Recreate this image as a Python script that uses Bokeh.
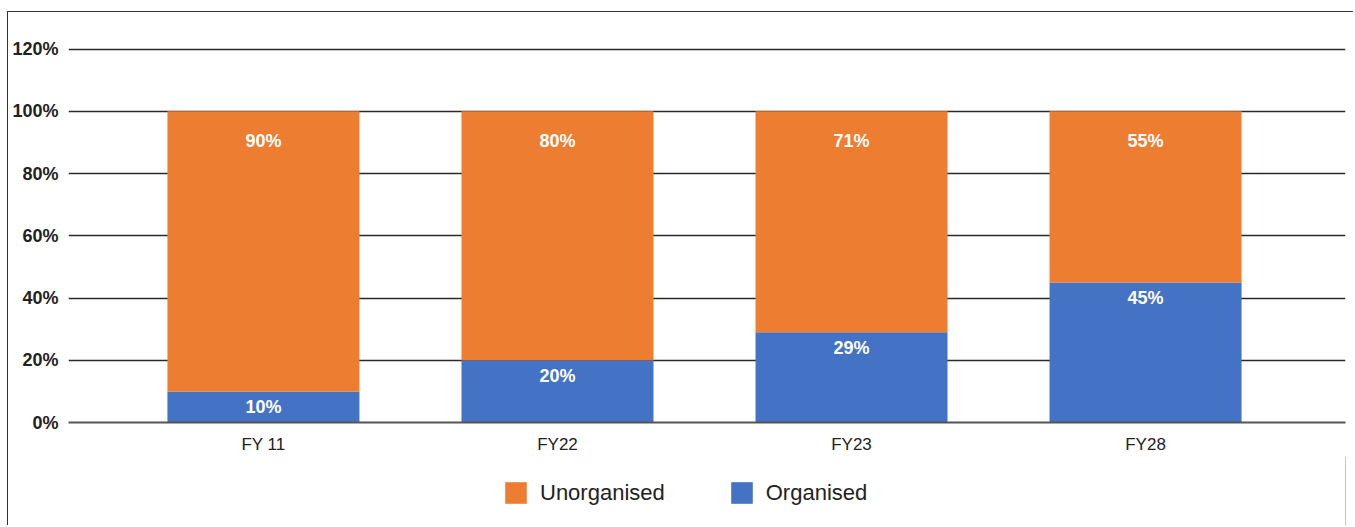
from bokeh.plotting import figure
from bokeh.layouts import column
from bokeh.models import ColumnDataSource, FixedTicker, Legend, LegendItem
from bokeh.core.properties import value
from bokeh.embed import file_html
from bokeh.resources import INLINE

categories = ["FY 11", "FY22", "FY23", "FY28"]
organised = [10, 20, 29, 45]
unorganised = [90, 80, 71, 55]
series_names = ["Unorganised", "Organised"]
y_ticks = [0, 20, 40, 60, 80, 100, 120]
y_tick_labels = ["0%", "20%", "40%", "60%", "80%", "100%", "120%"]

ORANGE = "#ED7D31"
BLUE = "#4472C4"
FONT = "Liberation Sans"

xs = list(range(len(categories)))
tops = [o + u for o, u in zip(organised, unorganised)]
src = ColumnDataSource(dict(
    x=xs,
    org=organised,
    unorg=unorganised,
    top=tops,
    org_lbl=[f"{v}%" for v in organised],
    unorg_lbl=[f"{v}%" for v in unorganised],
))

p = figure(width=1345, height=444, x_range=(-0.663, 3.68), y_range=(0, 120.5),
           output_backend="svg", toolbar_location=None,
           min_border_top=35, min_border_left=60, min_border_right=8, min_border_bottom=34)
p.outline_line_color = None
p.background_fill_color = "white"

r_org = p.vbar(x="x", bottom=0, top="org", width=0.653, source=src,
               fill_color=BLUE, line_color=None)
r_unorg = p.vbar(x="x", bottom="org", top="top", width=0.653, source=src,
                 fill_color=ORANGE, line_color=None)

p.text(x="x", y="top", text="unorg_lbl", source=src, text_color="white",
       text_font=value(FONT), text_font_style="bold", text_font_size="18px",
       text_align="center", text_baseline="middle", y_offset=30)
p.text(x="x", y="org", text="org_lbl", source=src, text_color="white",
       text_font=value(FONT), text_font_style="bold", text_font_size="18px",
       text_align="center", text_baseline="middle", y_offset=16)

# grid
p.xgrid.grid_line_color = None
p.ygrid.ticker = FixedTicker(ticks=y_ticks)
p.ygrid.grid_line_color = "#2a2a2a"
p.ygrid.grid_line_width = 1.6

# axes
p.yaxis.ticker = FixedTicker(ticks=y_ticks)
p.yaxis.major_label_overrides = {t: l for t, l in zip(y_ticks, y_tick_labels)}
p.yaxis.axis_line_color = None
p.yaxis.major_tick_line_color = None
p.yaxis.minor_tick_line_color = None
p.yaxis.major_tick_out = 0
p.yaxis.minor_tick_out = 0
p.yaxis.major_label_standoff = 10
p.yaxis.major_label_text_font = FONT
p.yaxis.major_label_text_font_style = "bold"
p.yaxis.major_label_text_font_size = "18px"
p.yaxis.major_label_text_color = "#222222"

p.xaxis.ticker = FixedTicker(ticks=xs)
p.xaxis.major_label_overrides = {i: c for i, c in zip(xs, categories)}
p.xaxis.axis_line_color = "#555555"
p.xaxis.axis_line_width = 2
p.xaxis.major_tick_line_color = None
p.xaxis.minor_tick_line_color = None
p.xaxis.major_tick_out = 0
p.xaxis.minor_tick_out = 0
p.xaxis.major_label_standoff = 12
p.xaxis.major_label_text_font = FONT
p.xaxis.major_label_text_font_size = "17px"
p.xaxis.major_label_text_color = "#222222"

# legend strip below the chart (swatch renderers sit outside the visible range)
pl = figure(width=1345, height=69, x_range=(0, 1), y_range=(0, 1),
            x_axis_location=None, y_axis_location=None,
            output_backend="svg", toolbar_location=None,
            min_border_left=0, min_border_right=0, min_border_top=0, min_border_bottom=0)
pl.grid.grid_line_color = None
pl.outline_line_color = None
l_unorg = pl.vbar(x=[5], top=[5], width=0.5, fill_color=ORANGE, line_color=None)
l_org = pl.vbar(x=[5], top=[5], width=0.5, fill_color=BLUE, line_color=None)

legend = Legend(items=[LegendItem(label=series_names[0], renderers=[l_unorg]),
                       LegendItem(label=series_names[1], renderers=[l_org])],
                orientation="horizontal", location=(434, 19),
                glyph_width=27, glyph_height=27, label_height=27,
                label_standoff=11, spacing=63, padding=0, margin=0,
                border_line_color=None, background_fill_alpha=0,
                label_text_font=FONT, label_text_font_size="22px",
                label_text_color="#222222")
pl.add_layout(legend, "center")

layout = column(p, pl, spacing=0,
                styles={"margin-top": "11px", "margin-left": "7px",
                        "border-top": "1px solid #333333", "border-left": "1px solid #333333"})

open("out.html", "w").write(file_html(layout, INLINE))
